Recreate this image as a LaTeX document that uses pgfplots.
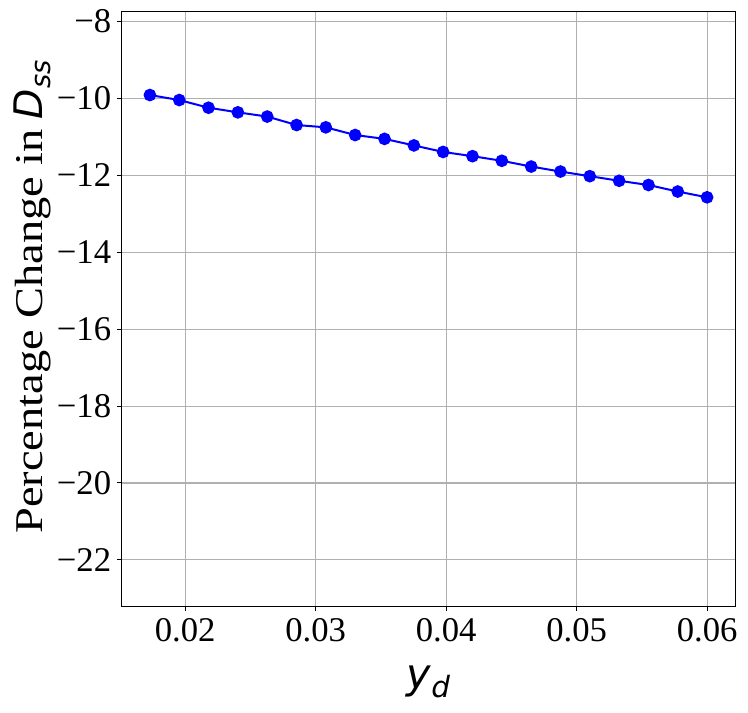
\documentclass[border=0pt]{standalone}
\usepackage{fontspec}
\setmainfont{Liberation Serif}
\newfontfamily\djv{DejaVu Sans}
\usepackage{graphicx}
\usepackage{pgfplots}
\pgfplotsset{compat=1.18}
\begin{document}
\begin{tikzpicture}
\begin{axis}[name=ax, scale only axis, width=459.75pt, height=445.5pt,
  xmin=0.01516, xmax=0.06214, ymin=-23.2, ymax=-7.75,
  xtick={0.02,0.03,0.04,0.05,0.06}, xticklabels={0.02,0.03,0.04,0.05,0.06},
  ytick={-22,-20,-18,-16,-14,-12,-10,-8},
  yticklabels={−22,−20,−18,−16,−14,−12,−10,−8},
  tick label style={font=\fontsize{26}{30}\selectfont},
  xticklabel style={yshift=-2pt},
  yticklabel style={xshift=-1pt},
  grid=major, major grid style={color=black!31, line width=0.8pt},
  axis line style={line width=0.75pt},
  tick align=outside, major tick length=3.6pt,
  tick style={black, line width=0.75pt},
  tick pos=left,
  scaled x ticks=false,
  xlabel={\fontsize{31}{36}\selectfont\djv\itshape y\raisebox{-0.2em}{\fontsize{22}{24}\selectfont d}},
  xlabel style={at={(axis description cs:0.5,-0.1397)}, anchor=base},
  ylabel={\fontsize{29.5}{34}\selectfont \scalebox{1.18}[1]{Percentage Change in} {\djv\itshape D\raisebox{-0.2em}{\fontsize{20.5}{22}\selectfont ss}}},
  ylabel style={at={(axis description cs:-0.1289,0.52)}, anchor=base},
]
\addplot[color=blue, line width=1.5pt, mark=*, mark size=4pt, mark options={fill=blue, draw=blue}] coordinates {
(0.01730,-9.91)
(0.01955,-10.04)
(0.02179,-10.24)
(0.02404,-10.36)
(0.02629,-10.47)
(0.02854,-10.69)
(0.03078,-10.75)
(0.03303,-10.95)
(0.03528,-11.05)
(0.03753,-11.22)
(0.03977,-11.39)
(0.04202,-11.50)
(0.04427,-11.62)
(0.04652,-11.77)
(0.04876,-11.90)
(0.05101,-12.02)
(0.05326,-12.14)
(0.05551,-12.25)
(0.05775,-12.42)
(0.06000,-12.57)
};
\end{axis}
\path[use as bounding box] ([xshift=-91.5pt,yshift=-79.5pt]ax.south west) rectangle ([xshift=9.75pt,yshift=9pt]ax.north east);
\end{tikzpicture}
\end{document}
